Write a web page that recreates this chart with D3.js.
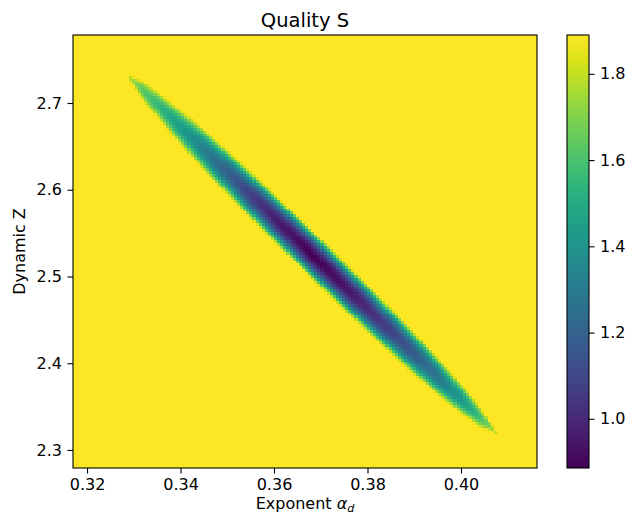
<!DOCTYPE html>
<html>
<head>
<meta charset="utf-8">
<script src="https://cdn.jsdelivr.net/npm/d3@7"></script>
<style>
  body { margin: 0; background: #fff; }
  text { font-family: "DejaVu Sans", sans-serif; fill: #000; }
</style>
</head>
<body>
<div id="chart"></div>
<script>

// valley of the quality surface, read along its long axis
let alphaKnots = [0.3281, 0.332, 0.336, 0.340, 0.345, 0.350, 0.355, 0.360, 0.3679, 0.375, 0.380, 0.385, 0.390, 0.395, 0.400, 0.404, 0.4077];
let floorS     = [1.80, 1.63, 1.53, 1.44, 1.32, 1.19, 1.07, 0.97, 0.886, 0.93, 1.00, 1.08, 1.17, 1.28, 1.42, 1.57, 1.78];
let centerZ    = [2.7346, 2.7143, 2.6934, 2.6726, 2.6465, 2.6204, 2.5943, 2.5682, 2.5270, 2.4899, 2.4639, 2.4378, 2.4117, 2.3856, 2.3596, 2.3387, 2.3194];
// half height of the valley (in Z) where S reaches the top of the scale
let halfWidthZ = [0.000, 0.0115, 0.0165, 0.0205, 0.0245, 0.026, 0.0275, 0.028, 0.0285, 0.028, 0.0275, 0.0265, 0.025, 0.022, 0.0175, 0.0125, 0.000];

let sMin = 0.886, sMax = 1.890;
let xTicks = [0.32, 0.34, 0.36, 0.38, 0.40];
let yTicks = [2.3, 2.4, 2.5, 2.6, 2.7];
let cTicks = [1.0, 1.2, 1.4, 1.6, 1.8];
let xDomain = [0.3170, 0.41626];
let yDomain = [2.2792, 2.7784];
let nx = 150, ny = 150;

// plot area
var margin = { top: 35, left: 73 };
var width = 464, height = 433;
var fontSize = "16px";

var svg = d3.select("#chart").append("svg")
  .attr("width", 639)
  .attr("height", 516);

var x = d3.scaleLinear().domain(xDomain).range([0, width]);
var y = d3.scaleLinear().domain(yDomain).range([height, 0]);
var color = d3.scaleSequential(d3.interpolateViridis).domain([sMin, sMax]).clamp(true);

var floorAt = d3.scaleLinear().domain(alphaKnots).range(floorS);
var centerAt = d3.scaleLinear().domain(alphaKnots).range(centerZ);
var widthAt = d3.scaleLinear().domain(alphaKnots).range(halfWidthZ);

// build grid cells
var dx = (xDomain[1] - xDomain[0]) / nx;
var dy = (yDomain[1] - yDomain[0]) / ny;
var cells = [];
for (let i = 0; i < nx; i++) {
  for (let j = 0; j < ny; j++) {
    let a = xDomain[0] + (i + 0.5) * dx;
    let z = yDomain[0] + (j + 0.5) * dy;
    let s = sMax;
    if (a > alphaKnots[0] && a < alphaKnots[alphaKnots.length - 1]) {
      let f = (z - centerAt(a)) / widthAt(a);
      let base = floorAt(a);
      s = Math.min(sMax, base + (sMax - base) * f * f);
    }
    cells.push({ a0: xDomain[0] + i * dx, z0: yDomain[0] + j * dy, s: s });
  }
}

var g = svg.append("g")
  .attr("transform", "translate(" + margin.left + "," + margin.top + ")");

g.append("g").selectAll("rect")
  .data(cells)
  .enter().append("rect")
  .attr("x", function (c) { return x(c.a0); })
  .attr("y", function (c) { return y(c.z0 + dy); })
  .attr("width", x(xDomain[0] + dx) - x(xDomain[0]) + 0.4)
  .attr("height", y(yDomain[0]) - y(yDomain[0] + dy) + 0.4)
  .attr("fill", function (c) { return color(c.s); })
  .attr("shape-rendering", "crispEdges");

// frame
g.append("rect")
  .attr("width", width).attr("height", height)
  .attr("fill", "none").attr("stroke", "#000").attr("stroke-width", 1.1);

// axes
var xAxis = g.append("g")
  .attr("transform", "translate(0," + height + ")")
  .call(d3.axisBottom(x).tickValues(xTicks).tickFormat(d3.format(".2f")).tickSize(5.5).tickPadding(5));
var yAxis = g.append("g")
  .call(d3.axisLeft(y).tickValues(yTicks).tickFormat(d3.format(".1f")).tickSize(5.5).tickPadding(5.5));

[xAxis, yAxis].forEach(function (ax) {
  ax.select(".domain").remove();
  ax.selectAll("line").attr("stroke", "#000").attr("stroke-width", 1.1);
  ax.selectAll("text").style("font-size", fontSize).style("font-family", "DejaVu Sans, sans-serif");
});

// title and labels
svg.append("text")
  .attr("x", margin.left + width / 2).attr("y", 27)
  .attr("text-anchor", "middle").style("font-size", "19.5px")
  .text("Quality S");

var xl = svg.append("text")
  .attr("x", margin.left + width / 2).attr("y", 509)
  .attr("text-anchor", "middle").style("font-size", fontSize);
xl.append("tspan").text("Exponent ");
xl.append("tspan").style("font-style", "italic").text("α");
xl.append("tspan").style("font-style", "italic").style("font-size", "11.2px").attr("dy", 2.5).text("d");

svg.append("text")
  .attr("transform", "translate(25," + (margin.top + height / 2) + ") rotate(-90)")
  .attr("text-anchor", "middle").style("font-size", fontSize)
  .text("Dynamic Z");

// colorbar
var cbX = 567, cbW = 22;
var cy = d3.scaleLinear().domain([sMin, sMax]).range([margin.top + height, margin.top]);

var defs = svg.append("defs");
var grad = defs.append("linearGradient")
  .attr("id", "cbgrad").attr("x1", 0).attr("y1", 1).attr("x2", 0).attr("y2", 0);
d3.range(0, 1.0001, 0.05).forEach(function (t) {
  grad.append("stop").attr("offset", t).attr("stop-color", d3.interpolateViridis(t));
});

svg.append("rect")
  .attr("x", cbX).attr("y", margin.top)
  .attr("width", cbW).attr("height", height)
  .attr("fill", "url(#cbgrad)")
  .attr("stroke", "#000").attr("stroke-width", 1.1);

var cAxis = svg.append("g")
  .attr("transform", "translate(" + (cbX + cbW) + ",0)")
  .call(d3.axisRight(cy).tickValues(cTicks).tickFormat(d3.format(".1f")).tickSize(5.5).tickPadding(5.5));
cAxis.select(".domain").remove();
cAxis.selectAll("line").attr("stroke", "#000").attr("stroke-width", 1.1);
cAxis.selectAll("text").style("font-size", fontSize).style("font-family", "DejaVu Sans, sans-serif");

</script>
</body>
</html>
